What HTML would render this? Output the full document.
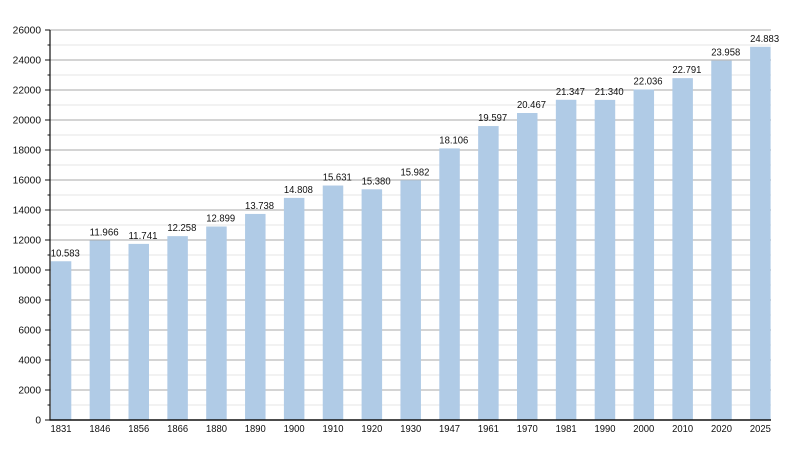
<!DOCTYPE html>
<html><head><meta charset="utf-8"><style>
html,body{margin:0;padding:0;background:#fff;}
svg{display:block;}
text{font-family:"Liberation Sans",Arial,sans-serif;fill:#111;}
</style></head><body>
<svg width="800" height="450" viewBox="0 0 800 450" xmlns="http://www.w3.org/2000/svg">
<g stroke-width="1">
<line x1="50" x2="771" y1="405" y2="405" stroke="#e4e4e4"/>
<line x1="50" x2="771" y1="390" y2="390" stroke="#a8a8a8"/>
<line x1="50" x2="771" y1="375" y2="375" stroke="#e4e4e4"/>
<line x1="50" x2="771" y1="360" y2="360" stroke="#a8a8a8"/>
<line x1="50" x2="771" y1="345" y2="345" stroke="#e4e4e4"/>
<line x1="50" x2="771" y1="330" y2="330" stroke="#a8a8a8"/>
<line x1="50" x2="771" y1="315" y2="315" stroke="#e4e4e4"/>
<line x1="50" x2="771" y1="300" y2="300" stroke="#a8a8a8"/>
<line x1="50" x2="771" y1="285" y2="285" stroke="#e4e4e4"/>
<line x1="50" x2="771" y1="270" y2="270" stroke="#a8a8a8"/>
<line x1="50" x2="771" y1="255" y2="255" stroke="#e4e4e4"/>
<line x1="50" x2="771" y1="240" y2="240" stroke="#a8a8a8"/>
<line x1="50" x2="771" y1="225" y2="225" stroke="#e4e4e4"/>
<line x1="50" x2="771" y1="210" y2="210" stroke="#a8a8a8"/>
<line x1="50" x2="771" y1="195" y2="195" stroke="#e4e4e4"/>
<line x1="50" x2="771" y1="180" y2="180" stroke="#a8a8a8"/>
<line x1="50" x2="771" y1="165" y2="165" stroke="#e4e4e4"/>
<line x1="50" x2="771" y1="150" y2="150" stroke="#a8a8a8"/>
<line x1="50" x2="771" y1="135" y2="135" stroke="#e4e4e4"/>
<line x1="50" x2="771" y1="120" y2="120" stroke="#a8a8a8"/>
<line x1="50" x2="771" y1="105" y2="105" stroke="#e4e4e4"/>
<line x1="50" x2="771" y1="90" y2="90" stroke="#a8a8a8"/>
<line x1="50" x2="771" y1="75" y2="75" stroke="#e4e4e4"/>
<line x1="50" x2="771" y1="60" y2="60" stroke="#a8a8a8"/>
<line x1="50" x2="771" y1="45" y2="45" stroke="#e4e4e4"/>
<line x1="50" x2="771" y1="30" y2="30" stroke="#a8a8a8"/>
</g>
<g fill="#b0cbe6">
<rect x="50.8" y="261.26" width="20.5" height="158.74"/>
<rect x="89.65" y="240.51" width="20.5" height="179.49"/>
<rect x="128.5" y="243.89" width="20.5" height="176.11"/>
<rect x="167.35" y="236.13" width="20.5" height="183.87"/>
<rect x="206.2" y="226.52" width="20.5" height="193.48"/>
<rect x="245.05" y="213.93" width="20.5" height="206.07"/>
<rect x="283.9" y="197.88" width="20.5" height="222.12"/>
<rect x="322.75" y="185.54" width="20.5" height="234.46"/>
<rect x="361.6" y="189.3" width="20.5" height="230.7"/>
<rect x="400.45" y="180.27" width="20.5" height="239.73"/>
<rect x="439.3" y="148.41" width="20.5" height="271.59"/>
<rect x="478.15" y="126.05" width="20.5" height="293.95"/>
<rect x="517" y="113" width="20.5" height="307"/>
<rect x="555.85" y="99.8" width="20.5" height="320.2"/>
<rect x="594.7" y="99.9" width="20.5" height="320.1"/>
<rect x="633.55" y="89.46" width="20.5" height="330.54"/>
<rect x="672.4" y="78.14" width="20.5" height="341.86"/>
<rect x="711.25" y="60.63" width="20.5" height="359.37"/>
<rect x="750.1" y="46.76" width="20.5" height="373.24"/>
</g>
<g font-size="10" lengthAdjust="spacingAndGlyphs">
<text x="50.8" y="256.3" textLength="29" lengthAdjust="spacingAndGlyphs">10.583</text>
<text x="89.65" y="235.5" textLength="29" lengthAdjust="spacingAndGlyphs">11.966</text>
<text x="128.5" y="238.9" textLength="29" lengthAdjust="spacingAndGlyphs">11.741</text>
<text x="167.35" y="231.1" textLength="29" lengthAdjust="spacingAndGlyphs">12.258</text>
<text x="206.2" y="221.5" textLength="29" lengthAdjust="spacingAndGlyphs">12.899</text>
<text x="245.05" y="208.9" textLength="29" lengthAdjust="spacingAndGlyphs">13.738</text>
<text x="283.9" y="192.9" textLength="29" lengthAdjust="spacingAndGlyphs">14.808</text>
<text x="322.75" y="180.5" textLength="29" lengthAdjust="spacingAndGlyphs">15.631</text>
<text x="361.6" y="184.3" textLength="29" lengthAdjust="spacingAndGlyphs">15.380</text>
<text x="400.45" y="175.3" textLength="29" lengthAdjust="spacingAndGlyphs">15.982</text>
<text x="439.3" y="143.4" textLength="29" lengthAdjust="spacingAndGlyphs">18.106</text>
<text x="478.15" y="121" textLength="29" lengthAdjust="spacingAndGlyphs">19.597</text>
<text x="517" y="108" textLength="29" lengthAdjust="spacingAndGlyphs">20.467</text>
<text x="555.85" y="94.8" textLength="29" lengthAdjust="spacingAndGlyphs">21.347</text>
<text x="594.7" y="94.9" textLength="29" lengthAdjust="spacingAndGlyphs">21.340</text>
<text x="633.55" y="84.5" textLength="29" lengthAdjust="spacingAndGlyphs">22.036</text>
<text x="672.4" y="73.1" textLength="29" lengthAdjust="spacingAndGlyphs">22.791</text>
<text x="711.25" y="55.6" textLength="29" lengthAdjust="spacingAndGlyphs">23.958</text>
<text x="750.1" y="41.8" textLength="29" lengthAdjust="spacingAndGlyphs">24.883</text>
</g>
<g font-size="10.5" text-anchor="middle">
<text x="61.05" y="432" textLength="21" lengthAdjust="spacingAndGlyphs">1831</text>
<text x="99.9" y="432" textLength="21" lengthAdjust="spacingAndGlyphs">1846</text>
<text x="138.75" y="432" textLength="21" lengthAdjust="spacingAndGlyphs">1856</text>
<text x="177.6" y="432" textLength="21" lengthAdjust="spacingAndGlyphs">1866</text>
<text x="216.45" y="432" textLength="21" lengthAdjust="spacingAndGlyphs">1880</text>
<text x="255.3" y="432" textLength="21" lengthAdjust="spacingAndGlyphs">1890</text>
<text x="294.15" y="432" textLength="21" lengthAdjust="spacingAndGlyphs">1900</text>
<text x="333" y="432" textLength="21" lengthAdjust="spacingAndGlyphs">1910</text>
<text x="371.85" y="432" textLength="21" lengthAdjust="spacingAndGlyphs">1920</text>
<text x="410.7" y="432" textLength="21" lengthAdjust="spacingAndGlyphs">1930</text>
<text x="449.55" y="432" textLength="21" lengthAdjust="spacingAndGlyphs">1947</text>
<text x="488.4" y="432" textLength="21" lengthAdjust="spacingAndGlyphs">1961</text>
<text x="527.25" y="432" textLength="21" lengthAdjust="spacingAndGlyphs">1970</text>
<text x="566.1" y="432" textLength="21" lengthAdjust="spacingAndGlyphs">1981</text>
<text x="604.95" y="432" textLength="21" lengthAdjust="spacingAndGlyphs">1990</text>
<text x="643.8" y="432" textLength="21" lengthAdjust="spacingAndGlyphs">2000</text>
<text x="682.65" y="432" textLength="21" lengthAdjust="spacingAndGlyphs">2010</text>
<text x="721.5" y="432" textLength="21" lengthAdjust="spacingAndGlyphs">2020</text>
<text x="760.35" y="432" textLength="21" lengthAdjust="spacingAndGlyphs">2025</text>
</g>
<line x1="50" x2="50" y1="30" y2="420.5" stroke="#111" stroke-width="1.2"/>
<line x1="49.5" x2="771" y1="420" y2="420" stroke="#111" stroke-width="1.4"/>
<g stroke="#111" stroke-width="1">
<line x1="45" x2="50" y1="420" y2="420"/>
<line x1="47.5" x2="50" y1="405" y2="405"/>
<line x1="45" x2="50" y1="390" y2="390"/>
<line x1="47.5" x2="50" y1="375" y2="375"/>
<line x1="45" x2="50" y1="360" y2="360"/>
<line x1="47.5" x2="50" y1="345" y2="345"/>
<line x1="45" x2="50" y1="330" y2="330"/>
<line x1="47.5" x2="50" y1="315" y2="315"/>
<line x1="45" x2="50" y1="300" y2="300"/>
<line x1="47.5" x2="50" y1="285" y2="285"/>
<line x1="45" x2="50" y1="270" y2="270"/>
<line x1="47.5" x2="50" y1="255" y2="255"/>
<line x1="45" x2="50" y1="240" y2="240"/>
<line x1="47.5" x2="50" y1="225" y2="225"/>
<line x1="45" x2="50" y1="210" y2="210"/>
<line x1="47.5" x2="50" y1="195" y2="195"/>
<line x1="45" x2="50" y1="180" y2="180"/>
<line x1="47.5" x2="50" y1="165" y2="165"/>
<line x1="45" x2="50" y1="150" y2="150"/>
<line x1="47.5" x2="50" y1="135" y2="135"/>
<line x1="45" x2="50" y1="120" y2="120"/>
<line x1="47.5" x2="50" y1="105" y2="105"/>
<line x1="45" x2="50" y1="90" y2="90"/>
<line x1="47.5" x2="50" y1="75" y2="75"/>
<line x1="45" x2="50" y1="60" y2="60"/>
<line x1="47.5" x2="50" y1="45" y2="45"/>
<line x1="45" x2="50" y1="30" y2="30"/>
</g>
<g font-size="10.2" text-anchor="end">
<text x="41" y="423.6">0</text>
<text x="41" y="393.6">2000</text>
<text x="41" y="363.6">4000</text>
<text x="41" y="333.6">6000</text>
<text x="41" y="303.6">8000</text>
<text x="41" y="273.6">10000</text>
<text x="41" y="243.6">12000</text>
<text x="41" y="213.6">14000</text>
<text x="41" y="183.6">16000</text>
<text x="41" y="153.6">18000</text>
<text x="41" y="123.6">20000</text>
<text x="41" y="93.6">22000</text>
<text x="41" y="63.6">24000</text>
<text x="41" y="33.6">26000</text>
</g>
</svg>
</body></html>
